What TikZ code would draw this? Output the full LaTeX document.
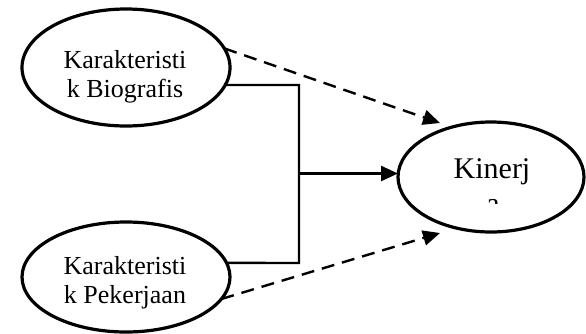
\documentclass[tikz,border=0pt]{standalone}
\usepackage{fontspec}
\setmainfont{Liberation Serif}
\usetikzlibrary{shapes.geometric,arrows.meta}
\begin{document}
\begin{tikzpicture}[x=1pt,y=-1pt,
  oval/.style={ellipse,draw,line width=3.2pt,inner sep=0pt,outer sep=0pt},
  lbl/.style={inner sep=0pt,align=center,font=\fontsize{26}{29}\selectfont},
  link/.style={line width=2.4pt},
  arr/.style={-{Triangle[length=17pt,width=15pt]}},
  dlink/.style={link,dash pattern=on 13pt off 8pt}]
\useasboundingbox (0,0) rectangle (586,333);

% the three constructs
\node[oval,minimum width=208pt,minimum height=117pt] (bio) at (126,67.5) {};
\node[lbl] (biot) at (125,77) {Karakteristi\\k Biografis};
\node[oval,minimum width=208pt,minimum height=110pt] (kerja) at (126,277) {};
\node[lbl] (kerjat) at (125,283) {Karakteristi\\k Pekerjaan};
\node[oval,minimum width=186pt,minimum height=110pt] (kin) at (491,177) {};
\node[inner sep=0pt,anchor=base,font=\fontsize{30}{34}\selectfont] (kint) at (492,178) {Kinerj};
\begin{scope}
  \clip (440,150) rectangle (545,203.5);
  \node[inner sep=0pt,anchor=base,font=\fontsize{30}{34}\selectfont] (kina) at (493,213) {a};
\end{scope}

% joint path of both constructs
\coordinate (j1) at (299,85);
\coordinate (j2) at (299,263);
\coordinate (jm) at (299,173.5);
\draw[link,line join=miter] (bio.-10) -- (j1) -- (j2) -- (kerja.8);
\draw[link,arr] (jm) -- (kin.west |- jm);

% separate dashed paths
\coordinate (tipA) at (440,123);
\coordinate (tipB) at (440,233);
\draw[dlink,arr] (bio.11) -- (tipA);
\draw[dlink,arr] (kerja.-13) -- (tipB);
\end{tikzpicture}
\end{document}
